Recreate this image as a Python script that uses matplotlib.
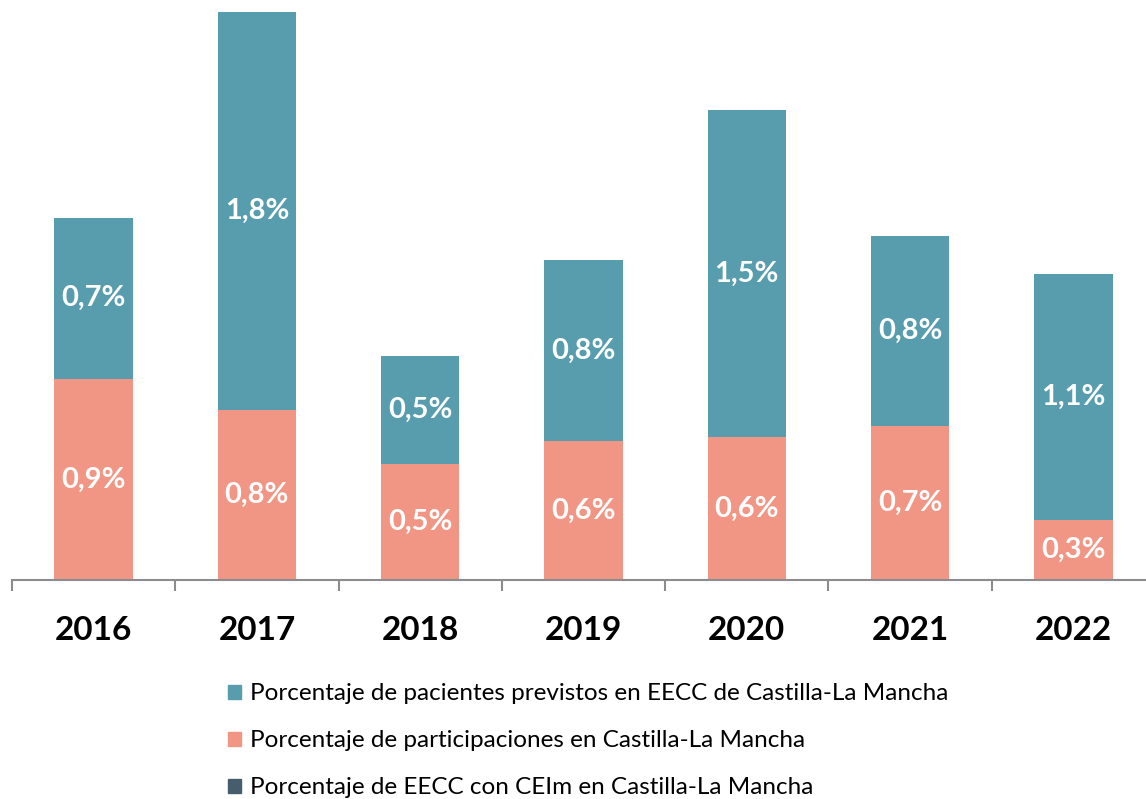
import matplotlib.pyplot as plt
from matplotlib.patches import Patch
import numpy as np

plt.rcParams['font.family'] = ['Lato', 'DejaVu Sans']

years = ['2016', '2017', '2018', '2019', '2020', '2021', '2022']
participaciones = [0.90, 0.76, 0.52, 0.62, 0.64, 0.69, 0.27]
pacientes = [0.72, 1.78, 0.48, 0.81, 1.46, 0.85, 1.10]
eecc_ceim = [0, 0, 0, 0, 0, 0, 0]

legend_names = ['Porcentaje de pacientes previstos en EECC de Castilla-La Mancha',
                'Porcentaje de participaciones en Castilla-La Mancha',
                'Porcentaje de EECC con CEIm en Castilla-La Mancha']

c_teal = '#589dad'
c_salmon = '#f19684'
c_dark = '#455d6c'

fig = plt.figure(figsize=(11.46, 7.99), dpi=100)
ax = fig.add_axes([12 / 1146, 219 / 799, 1143 / 1146, 580 / 799])

x = np.arange(len(years))
w = 0.48
ax.bar(x, participaciones, w, color=c_salmon)
ax.bar(x, pacientes, w, bottom=participaciones, color=c_teal)
ax.bar(x, eecc_ceim, w, bottom=np.add(participaciones, pacientes), color=c_dark)

def fmt(v):
    return f'{v:.1f}%'.replace('.', ',')

for i in range(len(years)):
    ax.text(x[i], participaciones[i] / 2, fmt(participaciones[i]), ha='center', va='center',
            color='white', fontsize=21, fontweight='bold')
    ax.text(x[i], participaciones[i] + pacientes[i] / 2, fmt(pacientes[i]), ha='center',
            va='center', color='white', fontsize=21, fontweight='bold')

ax.set_xlim(-0.5, len(years) - 0.5)
ax.set_ylim(0, 580 / 223.6)
for s in ['left', 'right', 'top']:
    ax.spines[s].set_visible(False)
ax.spines['bottom'].set_color('#8c8c8c')
ax.spines['bottom'].set_linewidth(1.5)
ax.set_yticks([])
ax.set_xticks(x)
ax.set_xticklabels(years, fontsize=24, fontweight='bold')
ax.tick_params(axis='x', which='major', length=0, pad=26)
ax.set_xticks(np.arange(-0.5, len(years)), minor=True)
ax.tick_params(axis='x', which='minor', length=8, width=1.5, color='#8c8c8c', direction='out')

handles = [Patch(color=c_teal), Patch(color=c_salmon), Patch(color=c_dark)]
fig.legend(handles, legend_names, loc='upper center', bbox_to_anchor=(0.513, 0.172),
           frameon=False, fontsize=17.5, handlelength=0.55, handleheight=0.55,
           handletextpad=0.35, labelspacing=1.07, alignment='left')

fig.savefig('out.png', dpi=100)
